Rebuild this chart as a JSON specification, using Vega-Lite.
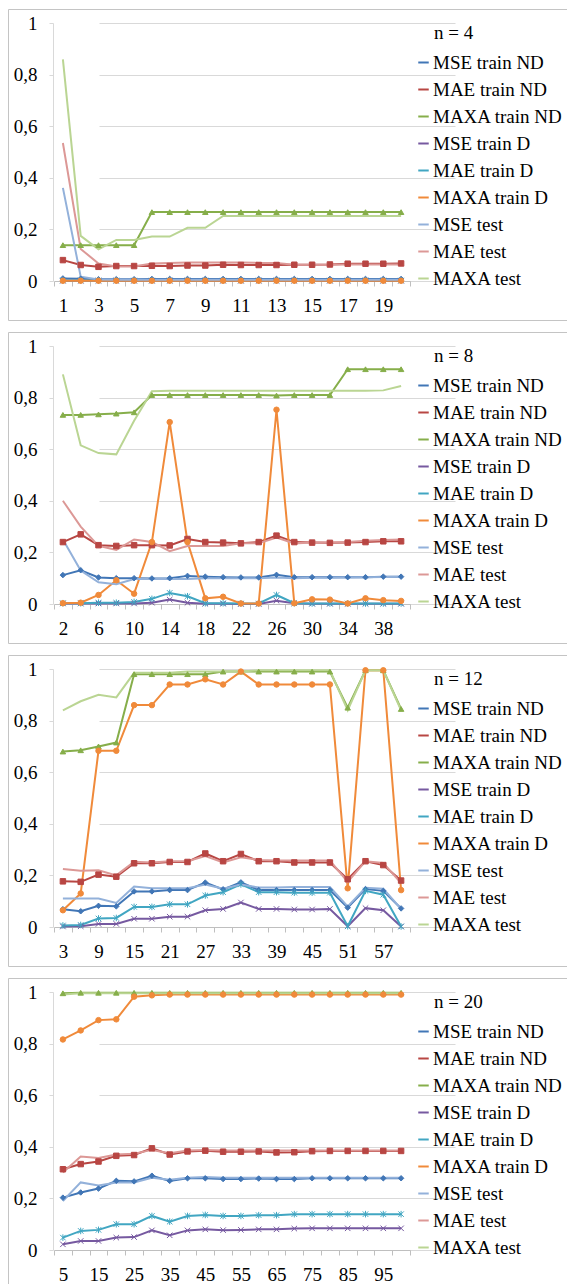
{
"$schema": "https://vega.github.io/schema/vega-lite/v6.json",
"usermeta": {"embedOptions": {"actions": false}},
"padding": {"left": 7, "top": 8, "right": 0, "bottom": 0},
"background": "white",
"spacing": 10,
"data": {"values": [
{"p":1,"x":1,"MSE train ND":0.01,"MAE train ND":0.081,"MAXA train ND":0.139,"MSE train D":0.001,"MAE train D":0.002,"MAXA train D":0.001,"MSE test":0.361,"MAE test":0.535,"MAXA test":0.859},
{"p":1,"x":2,"MSE train ND":0.009,"MAE train ND":0.062,"MAXA train ND":0.139,"MSE train D":0.001,"MAE train D":0.002,"MAXA train D":0.001,"MSE test":0.017,"MAE test":0.124,"MAXA test":0.175},
{"p":1,"x":3,"MSE train ND":0.007,"MAE train ND":0.055,"MAXA train ND":0.139,"MSE train D":0.001,"MAE train D":0.002,"MAXA train D":0.001,"MSE test":0.006,"MAE test":0.068,"MAXA test":0.123},
{"p":1,"x":4,"MSE train ND":0.007,"MAE train ND":0.058,"MAXA train ND":0.139,"MSE train D":0.001,"MAE train D":0.002,"MAXA train D":0.001,"MSE test":0.005,"MAE test":0.056,"MAXA test":0.159},
{"p":1,"x":5,"MSE train ND":0.007,"MAE train ND":0.058,"MAXA train ND":0.139,"MSE train D":0.001,"MAE train D":0.002,"MAXA train D":0.001,"MSE test":0.005,"MAE test":0.056,"MAXA test":0.159},
{"p":1,"x":6,"MSE train ND":0.008,"MAE train ND":0.059,"MAXA train ND":0.267,"MSE train D":0.001,"MAE train D":0.002,"MAXA train D":0.001,"MSE test":0.005,"MAE test":0.068,"MAXA test":0.172},
{"p":1,"x":7,"MSE train ND":0.008,"MAE train ND":0.058,"MAXA train ND":0.267,"MSE train D":0.001,"MAE train D":0.002,"MAXA train D":0.001,"MSE test":0.005,"MAE test":0.07,"MAXA test":0.172},
{"p":1,"x":8,"MSE train ND":0.008,"MAE train ND":0.06,"MAXA train ND":0.267,"MSE train D":0.001,"MAE train D":0.002,"MAXA train D":0.001,"MSE test":0.005,"MAE test":0.072,"MAXA test":0.206},
{"p":1,"x":9,"MSE train ND":0.008,"MAE train ND":0.06,"MAXA train ND":0.267,"MSE train D":0.001,"MAE train D":0.002,"MAXA train D":0.001,"MSE test":0.005,"MAE test":0.072,"MAXA test":0.206},
{"p":1,"x":10,"MSE train ND":0.008,"MAE train ND":0.063,"MAXA train ND":0.267,"MSE train D":0.001,"MAE train D":0.002,"MAXA train D":0.001,"MSE test":0.005,"MAE test":0.072,"MAXA test":0.252},
{"p":1,"x":11,"MSE train ND":0.008,"MAE train ND":0.062,"MAXA train ND":0.267,"MSE train D":0.001,"MAE train D":0.002,"MAXA train D":0.001,"MSE test":0.005,"MAE test":0.072,"MAXA test":0.252},
{"p":1,"x":12,"MSE train ND":0.008,"MAE train ND":0.062,"MAXA train ND":0.267,"MSE train D":0.001,"MAE train D":0.002,"MAXA train D":0.001,"MSE test":0.005,"MAE test":0.07,"MAXA test":0.252},
{"p":1,"x":13,"MSE train ND":0.008,"MAE train ND":0.062,"MAXA train ND":0.267,"MSE train D":0.001,"MAE train D":0.002,"MAXA train D":0.001,"MSE test":0.005,"MAE test":0.07,"MAXA test":0.252},
{"p":1,"x":14,"MSE train ND":0.008,"MAE train ND":0.063,"MAXA train ND":0.267,"MSE train D":0.001,"MAE train D":0.002,"MAXA train D":0.001,"MSE test":0.005,"MAE test":0.063,"MAXA test":0.252},
{"p":1,"x":15,"MSE train ND":0.008,"MAE train ND":0.063,"MAXA train ND":0.267,"MSE train D":0.001,"MAE train D":0.002,"MAXA train D":0.001,"MSE test":0.005,"MAE test":0.063,"MAXA test":0.252},
{"p":1,"x":16,"MSE train ND":0.008,"MAE train ND":0.064,"MAXA train ND":0.267,"MSE train D":0.001,"MAE train D":0.002,"MAXA train D":0.001,"MSE test":0.005,"MAE test":0.063,"MAXA test":0.252},
{"p":1,"x":17,"MSE train ND":0.008,"MAE train ND":0.067,"MAXA train ND":0.267,"MSE train D":0.001,"MAE train D":0.002,"MAXA train D":0.001,"MSE test":0.005,"MAE test":0.064,"MAXA test":0.252},
{"p":1,"x":18,"MSE train ND":0.008,"MAE train ND":0.067,"MAXA train ND":0.267,"MSE train D":0.001,"MAE train D":0.002,"MAXA train D":0.001,"MSE test":0.005,"MAE test":0.064,"MAXA test":0.252},
{"p":1,"x":19,"MSE train ND":0.008,"MAE train ND":0.067,"MAXA train ND":0.267,"MSE train D":0.001,"MAE train D":0.002,"MAXA train D":0.001,"MSE test":0.005,"MAE test":0.064,"MAXA test":0.252},
{"p":1,"x":20,"MSE train ND":0.008,"MAE train ND":0.068,"MAXA train ND":0.267,"MSE train D":0.001,"MAE train D":0.002,"MAXA train D":0.001,"MSE test":0.005,"MAE test":0.064,"MAXA test":0.252},

{"p":2,"x":2,"MSE train ND":0.112,"MAE train ND":0.24,"MAXA train ND":0.733,"MSE train D":0.002,"MAE train D":0.003,"MAXA train D":0.003,"MSE test":0.25,"MAE test":0.4,"MAXA test":0.89},
{"p":2,"x":4,"MSE train ND":0.131,"MAE train ND":0.27,"MAXA train ND":0.733,"MSE train D":0.002,"MAE train D":0.003,"MAXA train D":0.005,"MSE test":0.13,"MAE test":0.3,"MAXA test":0.615},
{"p":2,"x":6,"MSE train ND":0.103,"MAE train ND":0.228,"MAXA train ND":0.735,"MSE train D":0.002,"MAE train D":0.005,"MAXA train D":0.035,"MSE test":0.084,"MAE test":0.225,"MAXA test":0.585},
{"p":2,"x":8,"MSE train ND":0.1,"MAE train ND":0.225,"MAXA train ND":0.738,"MSE train D":0.002,"MAE train D":0.005,"MAXA train D":0.092,"MSE test":0.077,"MAE test":0.21,"MAXA test":0.58},
{"p":2,"x":10,"MSE train ND":0.1,"MAE train ND":0.228,"MAXA train ND":0.743,"MSE train D":0.002,"MAE train D":0.008,"MAXA train D":0.04,"MSE test":0.097,"MAE test":0.25,"MAXA test":0.71},
{"p":2,"x":12,"MSE train ND":0.099,"MAE train ND":0.228,"MAXA train ND":0.81,"MSE train D":0.005,"MAE train D":0.02,"MAXA train D":0.24,"MSE test":0.097,"MAE test":0.24,"MAXA test":0.825},
{"p":2,"x":14,"MSE train ND":0.1,"MAE train ND":0.227,"MAXA train ND":0.81,"MSE train D":0.017,"MAE train D":0.043,"MAXA train D":0.705,"MSE test":0.097,"MAE test":0.205,"MAXA test":0.827},
{"p":2,"x":16,"MSE train ND":0.109,"MAE train ND":0.252,"MAXA train ND":0.81,"MSE train D":0.005,"MAE train D":0.03,"MAXA train D":0.24,"MSE test":0.097,"MAE test":0.225,"MAXA test":0.827},
{"p":2,"x":18,"MSE train ND":0.106,"MAE train ND":0.24,"MAXA train ND":0.81,"MSE train D":0.001,"MAE train D":0.003,"MAXA train D":0.022,"MSE test":0.1,"MAE test":0.225,"MAXA test":0.827},
{"p":2,"x":20,"MSE train ND":0.104,"MAE train ND":0.238,"MAXA train ND":0.81,"MSE train D":0.001,"MAE train D":0.003,"MAXA train D":0.028,"MSE test":0.1,"MAE test":0.225,"MAXA test":0.827},
{"p":2,"x":22,"MSE train ND":0.103,"MAE train ND":0.235,"MAXA train ND":0.81,"MSE train D":0.0,"MAE train D":0.002,"MAXA train D":0.002,"MSE test":0.1,"MAE test":0.235,"MAXA test":0.827},
{"p":2,"x":24,"MSE train ND":0.103,"MAE train ND":0.24,"MAXA train ND":0.81,"MSE train D":0.0,"MAE train D":0.002,"MAXA train D":0.002,"MSE test":0.1,"MAE test":0.235,"MAXA test":0.827},
{"p":2,"x":26,"MSE train ND":0.113,"MAE train ND":0.265,"MAXA train ND":0.808,"MSE train D":0.013,"MAE train D":0.035,"MAXA train D":0.753,"MSE test":0.103,"MAE test":0.258,"MAXA test":0.827},
{"p":2,"x":28,"MSE train ND":0.104,"MAE train ND":0.24,"MAXA train ND":0.81,"MSE train D":0.003,"MAE train D":0.003,"MAXA train D":0.003,"MSE test":0.1,"MAE test":0.235,"MAXA test":0.827},
{"p":2,"x":30,"MSE train ND":0.104,"MAE train ND":0.238,"MAXA train ND":0.81,"MSE train D":0.001,"MAE train D":0.002,"MAXA train D":0.018,"MSE test":0.102,"MAE test":0.238,"MAXA test":0.827},
{"p":2,"x":32,"MSE train ND":0.104,"MAE train ND":0.237,"MAXA train ND":0.81,"MSE train D":0.001,"MAE train D":0.002,"MAXA train D":0.017,"MSE test":0.102,"MAE test":0.238,"MAXA test":0.827},
{"p":2,"x":34,"MSE train ND":0.104,"MAE train ND":0.238,"MAXA train ND":0.91,"MSE train D":0.001,"MAE train D":0.002,"MAXA train D":0.002,"MSE test":0.103,"MAE test":0.24,"MAXA test":0.827},
{"p":2,"x":36,"MSE train ND":0.104,"MAE train ND":0.24,"MAXA train ND":0.91,"MSE train D":0.001,"MAE train D":0.002,"MAXA train D":0.022,"MSE test":0.104,"MAE test":0.245,"MAXA test":0.827},
{"p":2,"x":38,"MSE train ND":0.106,"MAE train ND":0.243,"MAXA train ND":0.91,"MSE train D":0.001,"MAE train D":0.002,"MAXA train D":0.015,"MSE test":0.105,"MAE test":0.248,"MAXA test":0.828},
{"p":2,"x":40,"MSE train ND":0.106,"MAE train ND":0.243,"MAXA train ND":0.91,"MSE train D":0.001,"MAE train D":0.002,"MAXA train D":0.012,"MSE test":0.106,"MAE test":0.25,"MAXA test":0.845},

{"p":3,"x":3,"MSE train ND":0.069,"MAE train ND":0.177,"MAXA train ND":0.68,"MSE train D":0.002,"MAE train D":0.006,"MAXA train D":0.065,"MSE test":0.11,"MAE test":0.225,"MAXA test":0.84},
{"p":3,"x":6,"MSE train ND":0.061,"MAE train ND":0.175,"MAXA train ND":0.685,"MSE train D":0.003,"MAE train D":0.008,"MAXA train D":0.13,"MSE test":0.11,"MAE test":0.218,"MAXA test":0.875},
{"p":3,"x":9,"MSE train ND":0.082,"MAE train ND":0.203,"MAXA train ND":0.7,"MSE train D":0.012,"MAE train D":0.033,"MAXA train D":0.683,"MSE test":0.11,"MAE test":0.22,"MAXA test":0.9},
{"p":3,"x":12,"MSE train ND":0.08,"MAE train ND":0.195,"MAXA train ND":0.715,"MSE train D":0.012,"MAE train D":0.035,"MAXA train D":0.683,"MSE test":0.093,"MAE test":0.2,"MAXA test":0.89},
{"p":3,"x":15,"MSE train ND":0.138,"MAE train ND":0.247,"MAXA train ND":0.98,"MSE train D":0.032,"MAE train D":0.078,"MAXA train D":0.86,"MSE test":0.157,"MAE test":0.253,"MAXA test":0.985},
{"p":3,"x":18,"MSE train ND":0.138,"MAE train ND":0.247,"MAXA train ND":0.98,"MSE train D":0.032,"MAE train D":0.078,"MAXA train D":0.86,"MSE test":0.15,"MAE test":0.25,"MAXA test":0.985},
{"p":3,"x":21,"MSE train ND":0.143,"MAE train ND":0.252,"MAXA train ND":0.98,"MSE train D":0.04,"MAE train D":0.088,"MAXA train D":0.94,"MSE test":0.15,"MAE test":0.255,"MAXA test":0.985},
{"p":3,"x":24,"MSE train ND":0.143,"MAE train ND":0.252,"MAXA train ND":0.98,"MSE train D":0.04,"MAE train D":0.088,"MAXA train D":0.94,"MSE test":0.15,"MAE test":0.255,"MAXA test":0.99},
{"p":3,"x":27,"MSE train ND":0.172,"MAE train ND":0.285,"MAXA train ND":0.98,"MSE train D":0.065,"MAE train D":0.122,"MAXA train D":0.96,"MSE test":0.165,"MAE test":0.275,"MAXA test":0.99},
{"p":3,"x":30,"MSE train ND":0.146,"MAE train ND":0.255,"MAXA train ND":0.99,"MSE train D":0.07,"MAE train D":0.135,"MAXA train D":0.94,"MSE test":0.148,"MAE test":0.25,"MAXA test":0.99},
{"p":3,"x":33,"MSE train ND":0.173,"MAE train ND":0.283,"MAXA train ND":0.99,"MSE train D":0.095,"MAE train D":0.165,"MAXA train D":0.99,"MSE test":0.165,"MAE test":0.27,"MAXA test":0.99},
{"p":3,"x":36,"MSE train ND":0.143,"MAE train ND":0.255,"MAXA train ND":0.99,"MSE train D":0.07,"MAE train D":0.135,"MAXA train D":0.94,"MSE test":0.153,"MAE test":0.26,"MAXA test":0.995},
{"p":3,"x":39,"MSE train ND":0.143,"MAE train ND":0.255,"MAXA train ND":0.99,"MSE train D":0.07,"MAE train D":0.135,"MAXA train D":0.94,"MSE test":0.153,"MAE test":0.258,"MAXA test":0.995},
{"p":3,"x":42,"MSE train ND":0.143,"MAE train ND":0.25,"MAXA train ND":0.99,"MSE train D":0.068,"MAE train D":0.133,"MAXA train D":0.94,"MSE test":0.155,"MAE test":0.258,"MAXA test":0.995},
{"p":3,"x":45,"MSE train ND":0.143,"MAE train ND":0.25,"MAXA train ND":0.99,"MSE train D":0.068,"MAE train D":0.133,"MAXA train D":0.94,"MSE test":0.155,"MAE test":0.258,"MAXA test":0.995},
{"p":3,"x":48,"MSE train ND":0.143,"MAE train ND":0.25,"MAXA train ND":0.99,"MSE train D":0.07,"MAE train D":0.133,"MAXA train D":0.94,"MSE test":0.155,"MAE test":0.258,"MAXA test":0.995},
{"p":3,"x":51,"MSE train ND":0.075,"MAE train ND":0.185,"MAXA train ND":0.85,"MSE train D":0.003,"MAE train D":0.003,"MAXA train D":0.15,"MSE test":0.08,"MAE test":0.175,"MAXA test":0.84},
{"p":3,"x":54,"MSE train ND":0.147,"MAE train ND":0.255,"MAXA train ND":0.995,"MSE train D":0.073,"MAE train D":0.14,"MAXA train D":0.995,"MSE test":0.152,"MAE test":0.255,"MAXA test":0.995},
{"p":3,"x":57,"MSE train ND":0.14,"MAE train ND":0.24,"MAXA train ND":0.995,"MSE train D":0.065,"MAE train D":0.125,"MAXA train D":0.995,"MSE test":0.148,"MAE test":0.248,"MAXA test":0.995},
{"p":3,"x":60,"MSE train ND":0.072,"MAE train ND":0.18,"MAXA train ND":0.845,"MSE train D":0.002,"MAE train D":0.002,"MAXA train D":0.143,"MSE test":0.07,"MAE test":0.17,"MAXA test":0.84},

{"p":4,"x":5,"MSE train ND":0.203,"MAE train ND":0.313,"MAXA train ND":0.995,"MSE train D":0.022,"MAE train D":0.048,"MAXA train D":0.816,"MSE test":0.19,"MAE test":0.3,"MAXA test":0.99},
{"p":4,"x":10,"MSE train ND":0.223,"MAE train ND":0.333,"MAXA train ND":0.997,"MSE train D":0.035,"MAE train D":0.074,"MAXA train D":0.851,"MSE test":0.262,"MAE test":0.362,"MAXA test":0.995},
{"p":4,"x":15,"MSE train ND":0.238,"MAE train ND":0.343,"MAXA train ND":0.997,"MSE train D":0.035,"MAE train D":0.078,"MAXA train D":0.891,"MSE test":0.25,"MAE test":0.357,"MAXA test":0.995},
{"p":4,"x":20,"MSE train ND":0.268,"MAE train ND":0.365,"MAXA train ND":0.997,"MSE train D":0.048,"MAE train D":0.1,"MAXA train D":0.894,"MSE test":0.262,"MAE test":0.37,"MAXA test":0.995},
{"p":4,"x":25,"MSE train ND":0.266,"MAE train ND":0.368,"MAXA train ND":0.997,"MSE train D":0.05,"MAE train D":0.1,"MAXA train D":0.982,"MSE test":0.262,"MAE test":0.373,"MAXA test":0.995},
{"p":4,"x":30,"MSE train ND":0.288,"MAE train ND":0.394,"MAXA train ND":0.997,"MSE train D":0.076,"MAE train D":0.132,"MAXA train D":0.987,"MSE test":0.28,"MAE test":0.388,"MAXA test":0.995},
{"p":4,"x":35,"MSE train ND":0.268,"MAE train ND":0.37,"MAXA train ND":0.997,"MSE train D":0.057,"MAE train D":0.11,"MAXA train D":0.99,"MSE test":0.272,"MAE test":0.375,"MAXA test":0.995},
{"p":4,"x":40,"MSE train ND":0.278,"MAE train ND":0.382,"MAXA train ND":0.997,"MSE train D":0.076,"MAE train D":0.132,"MAXA train D":0.99,"MSE test":0.28,"MAE test":0.386,"MAXA test":0.995},
{"p":4,"x":45,"MSE train ND":0.278,"MAE train ND":0.385,"MAXA train ND":0.997,"MSE train D":0.08,"MAE train D":0.136,"MAXA train D":0.99,"MSE test":0.283,"MAE test":0.388,"MAXA test":0.995},
{"p":4,"x":50,"MSE train ND":0.275,"MAE train ND":0.381,"MAXA train ND":0.997,"MSE train D":0.077,"MAE train D":0.132,"MAXA train D":0.99,"MSE test":0.28,"MAE test":0.386,"MAXA test":0.995},
{"p":4,"x":55,"MSE train ND":0.275,"MAE train ND":0.381,"MAXA train ND":0.997,"MSE train D":0.078,"MAE train D":0.132,"MAXA train D":0.99,"MSE test":0.28,"MAE test":0.386,"MAXA test":0.995},
{"p":4,"x":60,"MSE train ND":0.277,"MAE train ND":0.382,"MAXA train ND":0.997,"MSE train D":0.08,"MAE train D":0.135,"MAXA train D":0.99,"MSE test":0.28,"MAE test":0.386,"MAXA test":0.995},
{"p":4,"x":65,"MSE train ND":0.275,"MAE train ND":0.378,"MAXA train ND":0.997,"MSE train D":0.08,"MAE train D":0.135,"MAXA train D":0.99,"MSE test":0.28,"MAE test":0.386,"MAXA test":0.995},
{"p":4,"x":70,"MSE train ND":0.275,"MAE train ND":0.379,"MAXA train ND":0.997,"MSE train D":0.083,"MAE train D":0.139,"MAXA train D":0.99,"MSE test":0.28,"MAE test":0.386,"MAXA test":0.995},
{"p":4,"x":75,"MSE train ND":0.278,"MAE train ND":0.383,"MAXA train ND":0.997,"MSE train D":0.084,"MAE train D":0.139,"MAXA train D":0.99,"MSE test":0.28,"MAE test":0.386,"MAXA test":0.995},
{"p":4,"x":80,"MSE train ND":0.278,"MAE train ND":0.384,"MAXA train ND":0.997,"MSE train D":0.084,"MAE train D":0.139,"MAXA train D":0.99,"MSE test":0.28,"MAE test":0.386,"MAXA test":0.995},
{"p":4,"x":85,"MSE train ND":0.278,"MAE train ND":0.384,"MAXA train ND":0.997,"MSE train D":0.084,"MAE train D":0.139,"MAXA train D":0.99,"MSE test":0.28,"MAE test":0.386,"MAXA test":0.995},
{"p":4,"x":90,"MSE train ND":0.278,"MAE train ND":0.384,"MAXA train ND":0.997,"MSE train D":0.084,"MAE train D":0.139,"MAXA train D":0.99,"MSE test":0.28,"MAE test":0.386,"MAXA test":0.995},
{"p":4,"x":95,"MSE train ND":0.278,"MAE train ND":0.384,"MAXA train ND":0.997,"MSE train D":0.084,"MAE train D":0.139,"MAXA train D":0.99,"MSE test":0.28,"MAE test":0.386,"MAXA test":0.995},
{"p":4,"x":100,"MSE train ND":0.278,"MAE train ND":0.384,"MAXA train ND":0.997,"MSE train D":0.084,"MAE train D":0.139,"MAXA train D":0.99,"MSE test":0.28,"MAE test":0.386,"MAXA test":0.995}
]},
"vconcat": [
{
"width": 565, "height": 311,
"transform": [{"filter": "datum.p == 1"}, {"fold": ["MSE train ND","MAE train ND","MAXA train ND","MSE train D","MAE train D","MAXA train D","MSE test","MAE test","MAXA test"], "as": ["s","v"]}],
"encoding": {
"x": {"field": "x", "type": "ordinal", "bandPosition": 0.5, "scale": {"type": "band", "range": [46, 402], "paddingInner": 0, "paddingOuter": 0}, "axis": {"labelExpr": "datum.value % 2 == 1 ? datum.label : ''"}},
"y": {"field": "v", "type": "quantitative", "scale": {"domain": [0, 1], "range": [272, 14], "nice": false, "zero": false}, "axis": {"values": [0, 0.2, 0.4, 0.6, 0.8, 1]}}
},
"layer": [
{"mark": {"type": "line", "strokeWidth": 2}, "encoding": {"color": {"field": "s", "type": "nominal", "scale": {"domain": ["MSE train ND","MAE train ND","MAXA train ND","MSE train D","MAE train D","MAXA train D","MSE test","MAE test","MAXA test"], "range": ["#4176B6","#B84643","#86AE4A","#7659A0","#41A6C2","#F08A3A","#93B1DA","#DC9896","#BAD593"]}, "legend": {"title": "n = 4", "encode": {"title": {"update": {"dx": {"value": 20}}}}}}}},
{"mark": {"type": "point", "size": 30, "strokeWidth": 1, "opacity": 1}, "transform": [{"filter": "indexof(['MSE test','MAE test','MAXA test'], datum.s) < 0"}], "encoding": {
"shape": {"field": "s", "type": "nominal", "scale": {"domain": ["MSE train ND","MAE train ND","MAXA train ND","MSE train D","MAE train D","MAXA train D"], "range": ["diamond","square","triangle-up","M-1,-1L1,1M-1,1L1,-1","M-1,-1L1,1M-1,1L1,-1M0,-1.2L0,1.2","circle"]}, "legend": null},
"fill": {"field": "s", "type": "nominal", "scale": {"domain": ["MSE train ND","MAE train ND","MAXA train ND","MSE train D","MAE train D","MAXA train D"], "range": ["#4176B6","#B84643","#86AE4A","#7659A0","#41A6C2","#F08A3A"]}, "legend": null},
"stroke": {"field": "s", "type": "nominal", "scale": {"domain": ["MSE train ND","MAE train ND","MAXA train ND","MSE train D","MAE train D","MAXA train D"], "range": ["#4176B6","#B84643","#86AE4A","#7659A0","#41A6C2","#F08A3A"]}, "legend": null}
}}
]
},
{
"width": 565, "height": 311,
"transform": [{"filter": "datum.p == 2"}, {"fold": ["MSE train ND","MAE train ND","MAXA train ND","MSE train D","MAE train D","MAXA train D","MSE test","MAE test","MAXA test"], "as": ["s","v"]}],
"encoding": {
"x": {"field": "x", "type": "ordinal", "bandPosition": 0.5, "scale": {"type": "band", "range": [46, 402], "paddingInner": 0, "paddingOuter": 0}, "axis": {"labelExpr": "(datum.value - 2) % 4 == 0 ? datum.label : ''"}},
"y": {"field": "v", "type": "quantitative", "scale": {"domain": [0, 1], "range": [272, 14], "nice": false, "zero": false}, "axis": {"values": [0, 0.2, 0.4, 0.6, 0.8, 1]}}
},
"layer": [
{"mark": {"type": "line", "strokeWidth": 2}, "encoding": {"color": {"field": "s", "type": "nominal", "scale": {"domain": ["MSE train ND","MAE train ND","MAXA train ND","MSE train D","MAE train D","MAXA train D","MSE test","MAE test","MAXA test"], "range": ["#4176B6","#B84643","#86AE4A","#7659A0","#41A6C2","#F08A3A","#93B1DA","#DC9896","#BAD593"]}, "legend": {"title": "n = 8", "encode": {"title": {"update": {"dx": {"value": 20}}}}}}}},
{"mark": {"type": "point", "size": 30, "strokeWidth": 1, "opacity": 1}, "transform": [{"filter": "indexof(['MSE test','MAE test','MAXA test'], datum.s) < 0"}], "encoding": {
"shape": {"field": "s", "type": "nominal", "scale": {"domain": ["MSE train ND","MAE train ND","MAXA train ND","MSE train D","MAE train D","MAXA train D"], "range": ["diamond","square","triangle-up","M-1,-1L1,1M-1,1L1,-1","M-1,-1L1,1M-1,1L1,-1M0,-1.2L0,1.2","circle"]}, "legend": null},
"fill": {"field": "s", "type": "nominal", "scale": {"domain": ["MSE train ND","MAE train ND","MAXA train ND","MSE train D","MAE train D","MAXA train D"], "range": ["#4176B6","#B84643","#86AE4A","#7659A0","#41A6C2","#F08A3A"]}, "legend": null},
"stroke": {"field": "s", "type": "nominal", "scale": {"domain": ["MSE train ND","MAE train ND","MAXA train ND","MSE train D","MAE train D","MAXA train D"], "range": ["#4176B6","#B84643","#86AE4A","#7659A0","#41A6C2","#F08A3A"]}, "legend": null}
}}
]
},
{
"width": 565, "height": 311,
"transform": [{"filter": "datum.p == 3"}, {"fold": ["MSE train ND","MAE train ND","MAXA train ND","MSE train D","MAE train D","MAXA train D","MSE test","MAE test","MAXA test"], "as": ["s","v"]}],
"encoding": {
"x": {"field": "x", "type": "ordinal", "bandPosition": 0.5, "scale": {"type": "band", "range": [46, 402], "paddingInner": 0, "paddingOuter": 0}, "axis": {"labelExpr": "(datum.value - 3) % 6 == 0 ? datum.label : ''"}},
"y": {"field": "v", "type": "quantitative", "scale": {"domain": [0, 1], "range": [272, 14], "nice": false, "zero": false}, "axis": {"values": [0, 0.2, 0.4, 0.6, 0.8, 1]}}
},
"layer": [
{"mark": {"type": "line", "strokeWidth": 2}, "encoding": {"color": {"field": "s", "type": "nominal", "scale": {"domain": ["MSE train ND","MAE train ND","MAXA train ND","MSE train D","MAE train D","MAXA train D","MSE test","MAE test","MAXA test"], "range": ["#4176B6","#B84643","#86AE4A","#7659A0","#41A6C2","#F08A3A","#93B1DA","#DC9896","#BAD593"]}, "legend": {"title": "n = 12", "encode": {"title": {"update": {"dx": {"value": 20}}}}}}}},
{"mark": {"type": "point", "size": 30, "strokeWidth": 1, "opacity": 1}, "transform": [{"filter": "indexof(['MSE test','MAE test','MAXA test'], datum.s) < 0"}], "encoding": {
"shape": {"field": "s", "type": "nominal", "scale": {"domain": ["MSE train ND","MAE train ND","MAXA train ND","MSE train D","MAE train D","MAXA train D"], "range": ["diamond","square","triangle-up","M-1,-1L1,1M-1,1L1,-1","M-1,-1L1,1M-1,1L1,-1M0,-1.2L0,1.2","circle"]}, "legend": null},
"fill": {"field": "s", "type": "nominal", "scale": {"domain": ["MSE train ND","MAE train ND","MAXA train ND","MSE train D","MAE train D","MAXA train D"], "range": ["#4176B6","#B84643","#86AE4A","#7659A0","#41A6C2","#F08A3A"]}, "legend": null},
"stroke": {"field": "s", "type": "nominal", "scale": {"domain": ["MSE train ND","MAE train ND","MAXA train ND","MSE train D","MAE train D","MAXA train D"], "range": ["#4176B6","#B84643","#86AE4A","#7659A0","#41A6C2","#F08A3A"]}, "legend": null}
}}
]
},
{
"width": 565, "height": 311,
"transform": [{"filter": "datum.p == 4"}, {"fold": ["MSE train ND","MAE train ND","MAXA train ND","MSE train D","MAE train D","MAXA train D","MSE test","MAE test","MAXA test"], "as": ["s","v"]}],
"encoding": {
"x": {"field": "x", "type": "ordinal", "bandPosition": 0.5, "scale": {"type": "band", "range": [46, 402], "paddingInner": 0, "paddingOuter": 0}, "axis": {"labelExpr": "(datum.value - 5) % 10 == 0 ? datum.label : ''"}},
"y": {"field": "v", "type": "quantitative", "scale": {"domain": [0, 1], "range": [272, 14], "nice": false, "zero": false}, "axis": {"values": [0, 0.2, 0.4, 0.6, 0.8, 1]}}
},
"layer": [
{"mark": {"type": "line", "strokeWidth": 2}, "encoding": {"color": {"field": "s", "type": "nominal", "scale": {"domain": ["MSE train ND","MAE train ND","MAXA train ND","MSE train D","MAE train D","MAXA train D","MSE test","MAE test","MAXA test"], "range": ["#4176B6","#B84643","#86AE4A","#7659A0","#41A6C2","#F08A3A","#93B1DA","#DC9896","#BAD593"]}, "legend": {"title": "n = 20", "encode": {"title": {"update": {"dx": {"value": 20}}}}}}}},
{"mark": {"type": "point", "size": 30, "strokeWidth": 1, "opacity": 1}, "transform": [{"filter": "indexof(['MSE test','MAE test','MAXA test'], datum.s) < 0"}], "encoding": {
"shape": {"field": "s", "type": "nominal", "scale": {"domain": ["MSE train ND","MAE train ND","MAXA train ND","MSE train D","MAE train D","MAXA train D"], "range": ["diamond","square","triangle-up","M-1,-1L1,1M-1,1L1,-1","M-1,-1L1,1M-1,1L1,-1M0,-1.2L0,1.2","circle"]}, "legend": null},
"fill": {"field": "s", "type": "nominal", "scale": {"domain": ["MSE train ND","MAE train ND","MAXA train ND","MSE train D","MAE train D","MAXA train D"], "range": ["#4176B6","#B84643","#86AE4A","#7659A0","#41A6C2","#F08A3A"]}, "legend": null},
"stroke": {"field": "s", "type": "nominal", "scale": {"domain": ["MSE train ND","MAE train ND","MAXA train ND","MSE train D","MAE train D","MAXA train D"], "range": ["#4176B6","#B84643","#86AE4A","#7659A0","#41A6C2","#F08A3A"]}, "legend": null}
}}
]
}
],
"resolve": {"scale": {"x": "independent", "y": "independent", "color": "independent", "fill": "independent", "stroke": "independent", "shape": "independent"}, "legend": {"color": "independent"}},
"config": {
"font": "Liberation Serif",
"view": {"stroke": "#C4C4C4", "strokeWidth": 1},
"axisX": {"orient": "bottom", "offset": -39, "tickBand": "extent", "tickSize": 5, "tickColor": "#BFBFBF", "domainColor": "#BFBFBF", "labelAngle": 0, "labelPadding": 10, "labelFont": "Liberation Serif", "labelFontSize": 19, "labelColor": "#000000", "labelOverlap": false, "labelFlush": false, "title": null, "grid": false},
"axisY": {"offset": -45, "tickSize": 4, "tickColor": "#D9D9D9", "domainColor": "#D9D9D9", "gridColor": "#D9D9D9", "grid": true, "labelPadding": 12, "labelFont": "Liberation Serif", "labelFontSize": 19, "labelColor": "#000000", "title": null, "labelExpr": "replace(format(datum.value, '.1~f'), '.', ',')"},
"legend": {"orient": "none", "legendX": 406, "legendY": 15, "padding": 0, "symbolType": "stroke", "symbolSize": 110, "symbolStrokeWidth": 2, "labelFont": "Liberation Serif", "labelFontSize": 19, "labelColor": "#000000", "labelOffset": 0, "labelLimit": 0, "titleFont": "Liberation Serif", "titleFontSize": 19, "titleFontWeight": "normal", "titleColor": "#000000", "titlePadding": 10, "rowPadding": 7}
}
}
